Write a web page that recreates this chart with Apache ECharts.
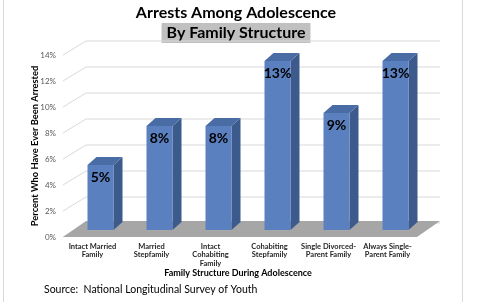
<!DOCTYPE html>
<html>
<head>
<meta charset="utf-8">
<script src="https://cdn.jsdelivr.net/npm/echarts@6/dist/echarts.min.js"></script>
<style>
  html, body { margin: 0; padding: 0; background: #fff; }
  #chart { width: 500px; height: 302px; }
</style>
</head>
<body>
<div id="chart"></div>
<script>
// data
const categories = [
  "Intact Married\nFamily",
  "Married\nStepfamily",
  "Intact\nCohabiting\nFamily",
  "Cohabiting\nStepfamily",
  "Single Divorced-\nParent Family",
  "Always Single-\nParent Family",
];
const arrested = [5, 8, 8, 13, 9, 13];
const yTicks = [0, 2, 4, 6, 8, 10, 12, 14];

// 3D look (pixels)
const WALL_DX = 23, WALL_DY = -14;
const BAR_DX = 8, BAR_DY = -7, DEPTH_X = 9, DEPTH_Y = -8;
const FONT = "Lato, 'Liberation Sans', sans-serif";

const chart = echarts.init(document.getElementById("chart"));

// band edges of the whole category axis at a value
function planeEdges(api, v) {
  const band = api.size([1, 0])[0];
  const l = api.coord([0, v]);
  const r = api.coord([categories.length - 1, v]);
  return { xl: l[0] - band / 2, xr: r[0] + band / 2, y: l[1] };
}

const option = {
  animation: false,
  grid: { left: 63, right: 83, top: 55, bottom: 65 },
  xAxis: {
    type: "category",
    data: categories,
    axisLine: { show: false },
    axisTick: { show: false },
    axisLabel: {
      interval: 0,
      margin: 5,
      fontFamily: FONT,
      fontSize: 7.5,
      fontWeight: "bold",
      color: "#262626",
      lineHeight: 8.5,
    },
  },
  yAxis: {
    type: "value",
    min: 0,
    max: 14,
    interval: 2,
    name: "Percent Who Have Ever Been Arrested",
    nameLocation: "middle",
    nameRotate: 90,
    nameGap: 24,
    nameMoveOverlap: false,
    nameTextStyle: { fontFamily: FONT, fontSize: 9.3, fontWeight: "bold", color: "#000" },
    axisLine: { show: false },
    axisTick: { show: false },
    splitLine: { show: false },
    axisLabel: {
      formatter: "{value}%",
      margin: 7,
      fontFamily: FONT,
      fontSize: 8,
      color: "#595959",
    },
  },
  series: [
    {
      // gridlines on side and back walls
      type: "custom",
      z: 1,
      silent: true,
      data: yTicks.map((t) => [0, t]),
      renderItem: (params, api) => {
        const e = planeEdges(api, api.value(1));
        return {
          type: "polyline",
          shape: {
            points: [
              [e.xl, e.y],
              [e.xl + WALL_DX, e.y + WALL_DY],
              [e.xr + WALL_DX, e.y + WALL_DY],
            ],
          },
          style: { stroke: "#d9d9d9", lineWidth: 1, fill: null },
        };
      },
    },
    {
      // floor
      type: "custom",
      z: 2,
      silent: true,
      data: [[0, 0]],
      renderItem: (params, api) => {
        const e = planeEdges(api, 0);
        return {
          type: "polygon",
          shape: {
            points: [
              [e.xl, e.y],
              [e.xr, e.y],
              [e.xr + WALL_DX, e.y + WALL_DY - 2],
              [e.xl + WALL_DX, e.y + WALL_DY - 2],
            ],
          },
          style: { fill: "#a6a6a6" },
        };
      },
    },
    {
      // 3d bars
      type: "custom",
      z: 3,
      data: arrested.map((v, i) => [i, v]),
      renderItem: (params, api) => {
        const i = api.value(0);
        const v = api.value(1);
        const base = api.coord([i, 0]);
        const top = api.coord([i, v]);
        const w = 26;
        const xl = base[0] - w / 2 + BAR_DX;
        const xr = xl + w;
        const yb = base[1] + BAR_DY;
        const yt = top[1] + BAR_DY;
        return {
          type: "group",
          children: [
            {
              type: "polygon",
              shape: { points: [[xr, yt], [xr + DEPTH_X, yt + DEPTH_Y], [xr + DEPTH_X, yb + DEPTH_Y], [xr, yb]] },
              style: { fill: "#3c5a8b" },
            },
            {
              type: "polygon",
              shape: { points: [[xl, yt], [xl + DEPTH_X, yt + DEPTH_Y], [xr + DEPTH_X, yt + DEPTH_Y], [xr, yt]] },
              style: { fill: "#4a6ca5" },
            },
            {
              type: "rect",
              shape: { x: xl, y: yt, width: w, height: yb - yt },
              style: { fill: "#5a80c0" },
            },
            {
              type: "text",
              style: {
                x: (xl + xr) / 2,
                y: yt + 5,
                text: v + "%",
                align: "center",
                verticalAlign: "top",
                font: "bold 14px " + FONT,
                fill: "#000",
              },
            },
          ],
        };
      },
    },
  ],
  graphic: [
    // chart frame sides
    { type: "line", shape: { x1: 3.5, y1: 0, x2: 3.5, y2: 302 }, style: { stroke: "#d9d9d9", lineWidth: 1 } },
    { type: "line", shape: { x1: 462.5, y1: 0, x2: 462.5, y2: 302 }, style: { stroke: "#d9d9d9", lineWidth: 1 } },
    {
      type: "text",
      style: {
        x: 236, y: 13, text: "Arrests Among Adolescence",
        align: "center", verticalAlign: "middle",
        font: "bold 16px " + FONT, fill: "#000",
      },
    },
    {
      type: "text",
      style: {
        x: 236, y: 33, text: "By Family Structure",
        align: "center", verticalAlign: "middle",
        font: "bold 16px " + FONT, fill: "#000",
        backgroundColor: "#c0c0c0", padding: [2, 5, 2, 5],
      },
    },
    {
      type: "text",
      style: {
        x: 238, y: 273, text: "Family Structure During Adolescence",
        align: "center", verticalAlign: "middle",
        font: "bold 9px " + FONT, fill: "#000",
      },
    },
    {
      type: "text",
      style: {
        x: 44, y: 290, text: "Source:  National Longitudinal Survey of Youth",
        align: "left", verticalAlign: "middle",
        font: "10.5px " + FONT, fill: "#000",
      },
    },
  ],
};

chart.setOption(option);
</script>
</body>
</html>
